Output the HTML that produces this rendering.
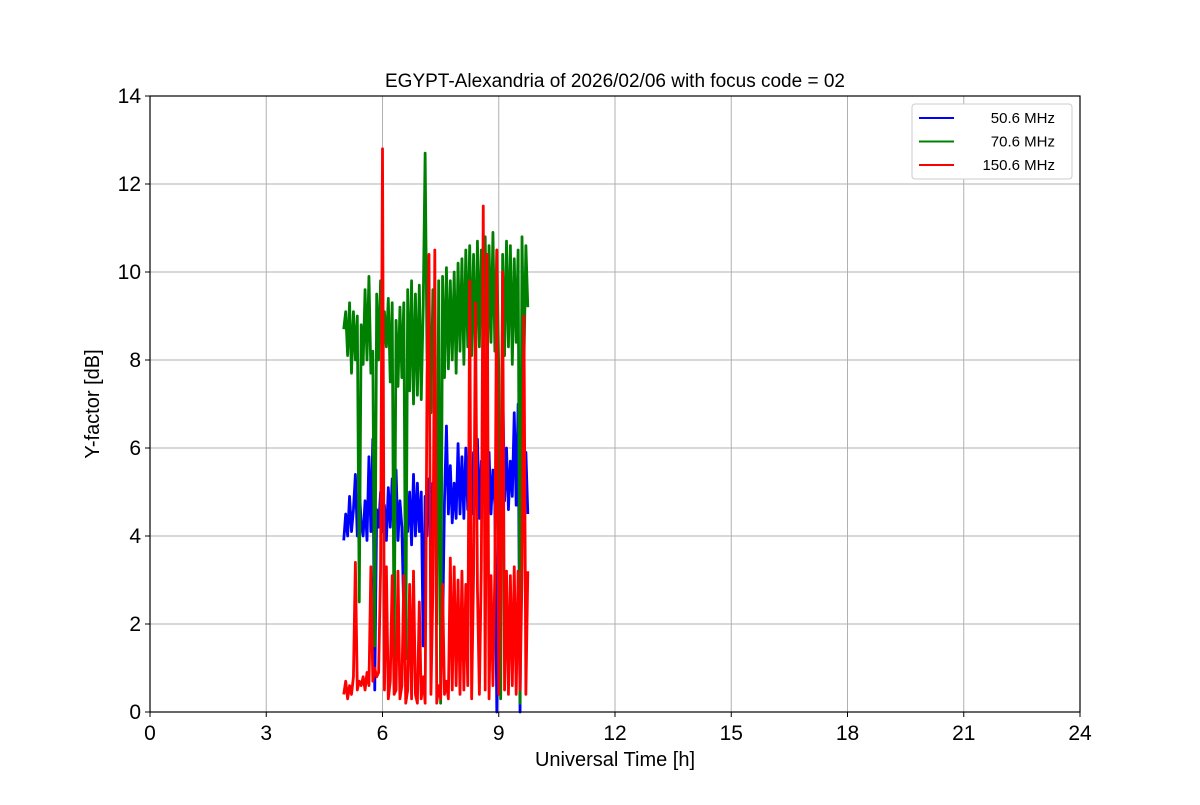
<!DOCTYPE html>
<html><head><meta charset="utf-8"><style>
body{margin:0;background:#fff;}
svg{font-family:"Liberation Sans","DejaVu Sans",sans-serif;}
</style></head><body>
<svg id="chart" width="1200" height="800" viewBox="0 0 1200 800">
<rect width="1200" height="800" fill="#fff"/>
<g id="grid"></g>
<g id="series"></g>
<rect x="150" y="96" width="930" height="616" fill="none" stroke="#000" stroke-width="1.2"/>
<g id="ticks"></g>
<text x="615" y="87" font-size="19" text-anchor="middle">EGYPT-Alexandria of 2026/02/06 with focus code = 02</text>
<text x="615" y="766" font-size="20" text-anchor="middle">Universal Time [h]</text>
<text transform="translate(99,404) rotate(-90)" font-size="20" text-anchor="middle">Y-factor [dB]</text>
<g id="legend">
<rect x="912" y="104" width="160" height="75" rx="3" fill="#fff" stroke="#ccc"/>
</g>
</svg>
<script>
const xTicks=[0,3,6,9,12,15,18,21,24];
const yTicks=[0,2,4,6,8,10,12,14];
const seriesNames=["50.6 MHz","70.6 MHz","150.6 MHz"];
const seriesColors=["#0000ff","#008000","#ff0000"];
const tStart=5.0, tStep=0.05;
const blue=[3.9,4.5,4.0,4.9,4.1,4.6,5.4,4.0,5.1,4.3,
4.0,4.8,3.9,5.8,4.1,6.2,0.5,4.6,4.2,5.0,
4.1,4.7,3.9,5.1,4.2,5.3,4.0,5.5,3.9,4.8,
4.2,2.2,4.9,4.1,5.0,3.8,5.4,4.0,5.2,4.1,
5.0,1.5,4.9,4.0,5.3,3.8,5.2,4.2,6.4,4.1,
4.9,1.8,4.8,6.5,4.5,5.6,4.3,5.2,4.4,6.1,
4.5,5.8,4.4,6.0,4.6,5.3,4.5,5.9,4.7,6.2,
4.4,5.7,4.8,6.4,4.6,5.9,4.5,5.5,4.7,0.0,
4.6,5.2,7.5,4.8,6.0,4.6,5.7,4.9,6.8,4.7,
7.0,0.0,6.5,4.8,5.9,4.5];
const green=[8.7,9.1,8.1,9.3,7.7,9.1,8.0,9.0,2.5,8.8,
7.9,9.6,8.0,9.9,7.7,8.2,1.5,9.5,8.0,9.8,
7.8,9.1,8.3,9.4,7.5,9.3,1.0,8.9,7.4,9.2,
7.6,9.3,1.2,9.6,7.3,9.8,7.0,9.5,7.2,9.7,
7.1,9.2,12.7,8.0,9.4,6.8,9.6,7.5,2.0,9.8,
0.2,9.9,7.6,10.1,7.8,9.8,8.0,10.0,7.7,10.2,
8.2,10.3,7.9,10.5,8.3,10.6,8.1,10.4,7.8,10.7,
8.3,10.5,8.0,10.8,7.5,10.6,8.4,10.9,8.2,10.5,
7.8,0.3,10.4,8.1,10.7,8.3,10.6,7.9,10.3,8.4,
10.5,0.2,10.8,7.9,10.6,9.2];
const red=[0.4,0.7,0.3,0.6,0.4,0.8,3.4,0.5,0.7,0.6,
0.8,0.5,0.9,0.6,3.3,0.7,1.0,0.8,0.9,3.2,
12.8,0.5,3.3,0.3,0.7,3.1,0.4,0.5,3.2,0.3,
0.6,3.1,0.2,0.5,2.9,0.3,3.2,0.4,0.2,2.5,
0.3,0.8,0.2,7.6,10.4,0.4,2.8,10.5,0.2,0.6,
0.3,2.9,0.4,0.7,0.3,3.5,0.5,3.3,0.6,3.0,
0.4,3.2,0.5,2.9,0.6,9.8,0.3,3.1,9.3,2.8,
0.4,3.3,11.5,0.5,10.4,0.3,3.1,0.6,3.2,10.5,
0.4,3.0,10.0,0.5,3.2,0.4,3.1,0.6,3.3,0.4,
3.2,0.5,3.1,9.0,0.4,3.2];
const ns="http://www.w3.org/2000/svg";
const X0=150,X1=1080,Y0=712,Y1=96;
function xs(v){return X0+(v-0)/(24-0)*(X1-X0);}
function ys(v){return Y0-(v-0)/(14-0)*(Y0-Y1);}
function mk(tag,attrs,parent){const e=document.createElementNS(ns,tag);for(const k in attrs)e.setAttribute(k,attrs[k]);parent.appendChild(e);return e;}
const grid=document.getElementById('grid'),ticks=document.getElementById('ticks');
xTicks.forEach(v=>{
 const g=mk('line',{x1:xs(v),x2:xs(v),y1:Y1,y2:Y0,stroke:'#b0b0b0','stroke-width':1},grid);
 
 
 const t=mk('line',{x1:xs(v),x2:xs(v),y1:Y0,y2:Y0+5,stroke:'#000'},ticks);
 
 
 const l=mk('text',{x:xs(v),y:Y0+28,'font-size':21,'text-anchor':'middle'},ticks);
 l.textContent=v;
 
 
});
yTicks.forEach(v=>{
 const g=mk('line',{x1:X0,x2:X1,y1:ys(v),y2:ys(v),stroke:'#b0b0b0','stroke-width':1},grid);
 
 
 const t=mk('line',{x1:X0-5,x2:X0,y1:ys(v),y2:ys(v),stroke:'#000'},ticks);
 
 
 const l=mk('text',{x:X0-9,y:ys(v)+7,'font-size':21,'text-anchor':'end'},ticks);
 l.textContent=v;
 
 
});
const ser=document.getElementById('series');
[blue,green,red].forEach((arr,i)=>{
 const d=arr.map((v,j)=>(j?'L':'M')+xs(tStart+j*tStep).toFixed(2)+','+ys(v).toFixed(2)).join('');
 const p=mk('path',{d:d,fill:'none',stroke:seriesColors[i],'stroke-width':2.8,'stroke-linejoin':'round'},ser);
 
 
});
const leg=document.getElementById('legend');
seriesNames.forEach((n,i)=>{
 const y=118+i*23.5;
 const l=mk('line',{x1:919,x2:954,y1:y,y2:y,stroke:seriesColors[i],'stroke-width':2},leg);
 
 
 const t=mk('text',{x:1055,y:y+5,'font-size':15,'text-anchor':'end'},leg);
 t.textContent=n;
 
 
});
</script>
</body></html>
